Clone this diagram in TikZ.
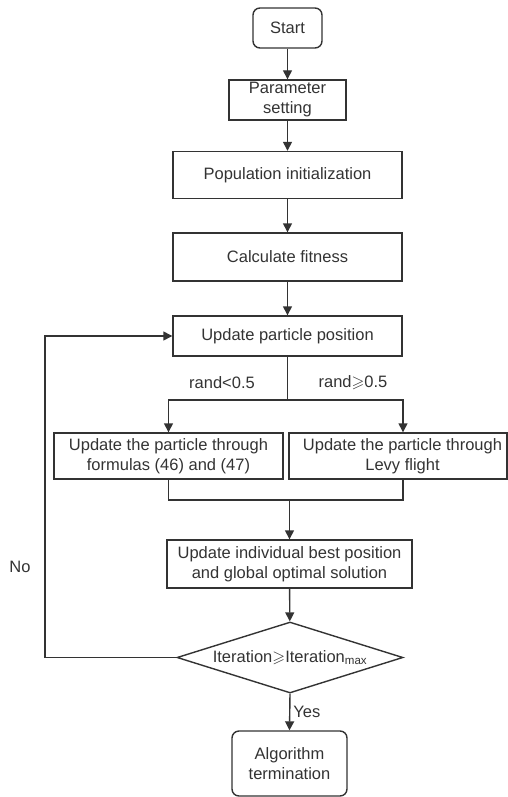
\documentclass[tikz,border=0pt]{standalone}
\usepackage{fontspec}
\usepackage{amssymb}
\setmainfont{Liberation Sans}
\usetikzlibrary{arrows.meta,shapes.geometric}

\definecolor{ink}{HTML}{333333}

\tikzset{
  box/.style={draw=ink,line width=1.4pt,text=ink,align=center,inner sep=0pt},
  roundbox/.style={box,rounded corners=7pt},
  decision/.style={box,diamond,aspect=3.2},
  flow/.style={draw=ink,line width=1.4pt,-{Triangle[length=9pt,width=9pt]}},
  link/.style={draw=ink,line width=1.4pt},
  lbl/.style={text=ink,inner sep=0pt}
}

\begin{document}
\begin{tikzpicture}[x=1pt,y=-1pt,font=\fontsize{16.5}{20}\selectfont]
  \useasboundingbox (0,0) rectangle (508,797);

  % Main column
  \node[roundbox,minimum width=69pt,minimum height=40pt] (start) at (287.5,28) {Start};
  \node[box,minimum width=117pt,minimum height=40pt] (param) at (287.5,100) {Parameter\\setting};
  \node[box,minimum width=229pt,minimum height=47pt] (init) at (287.5,175) {Population initialization};
  \node[box,minimum width=229pt,minimum height=48pt] (fit) at (287.5,257) {Calculate fitness};
  \node[box,minimum width=229pt,minimum height=40pt] (upd) at (287.5,336) {Update particle position};

  % Two update branches
  \node[box,minimum width=229pt,minimum height=46pt] (formula) at (168.5,456) {Update the particle through\\formulas (46) and (47)};
  \node[box,minimum width=218pt,minimum height=46pt] (levy) at (398,456) {\hspace*{9pt}Update the particle through\\\hspace*{9pt}Levy flight};

  \node[box,minimum width=245pt,minimum height=48pt] (best) at (289.5,564) {Update individual best position\\and global optimal solution};
  \node[decision,minimum width=226pt,minimum height=71pt] (stop) at (290,657.5) {Iteration$\geqslant$Iteration\textsubscript{max}};
  \node[roundbox,minimum width=115pt,minimum height=65pt] (term) at (289.5,763.5) {Algorithm\\termination};

  % Split and merge points
  \coordinate (split) at (287.5,400);
  \coordinate (splitL) at (168.5,400);
  \coordinate (splitR) at (403,400);
  \coordinate (merge) at (289.5,500);
  \coordinate (loop) at (45,336);

  % Straight arrows
  \draw[flow] (start) -- (param);
  \draw[flow] (param) -- (init);
  \draw[flow] (init) -- (fit);
  \draw[flow] (fit) -- (upd);

  % Branching
  \draw[link] (upd.south) -- (split);
  \draw[flow] (split) -- (splitL) -- (formula.north);
  \draw[flow] (split) -- (splitR) -- (splitR |- levy.north);
  \node[lbl] (randlo) at (222,383) {rand<0.5};
  \node[lbl] (randhi) at (353,383) {rand$\geqslant$0.5};

  % Merging
  \draw[link] (formula.south) |- (merge) -| (splitR |- levy.south);
  \draw[flow] (merge) -- (best.north);
  \draw[flow] (best) -- (stop);

  % Loop back and exit
  \draw[flow] (stop.west) -| (loop) -- (upd.west);
  \node[lbl] (no) at (20,567) {No};
  \draw[flow] (stop.south) -- (term.north) node[lbl,midway,right=3pt] (yes) {Yes};
\end{tikzpicture}
\end{document}
